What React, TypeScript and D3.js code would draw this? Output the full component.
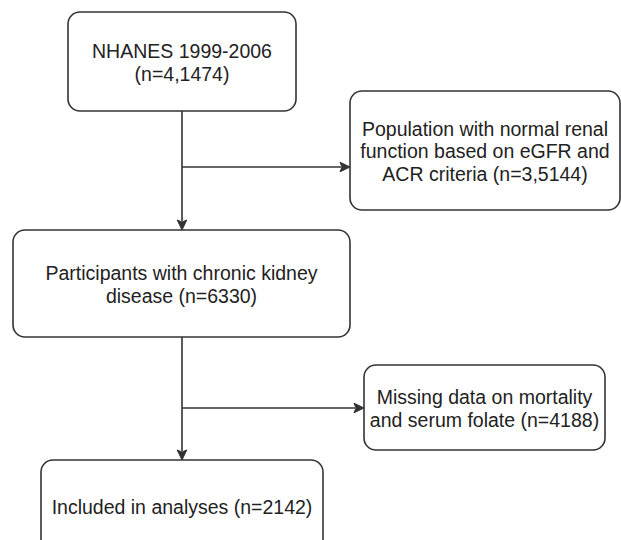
import * as d3 from "d3";

// flowchart content
const mainLabels: string[][] = [
  ["NHANES 1999-2006", "(n=4,1474)"],
  ["Participants with chronic kidney", "disease (n=6330)"],
  ["Included in analyses (n=2142)"],
];
const excludedLabels: string[][] = [
  ["Population with normal renal", "function based on eGFR and", "ACR criteria (n=3,5144)"],
  ["Missing data on mortality", "and serum folate (n=4188)"],
];

// box geometry (layout only)
const mainBoxes = [
  { x0: 68, x1: 296, y0: 12, y1: 111 },
  { x0: 13, x1: 350, y0: 230, y1: 337 },
  { x0: 41, x1: 323, y0: 460, y1: 552 },
];
const sideBoxes = [
  { x0: 350, x1: 620, y0: 91, y1: 210 },
  { x0: 364, x1: 605, y0: 365, y1: 450 },
];
const branchY = [167, 408];
const spineX = 182;

const W = 621;
const H = 540;
const fontSize = 19.5;
const lineGap = 22.5;
const stroke = "#333";

type Box = { x0: number; x1: number; y0: number; y1: number };

function arrowHead(x: number, y: number, dir: "down" | "right") {
  const len = 10;
  const half = 4.8;
  const notch = 2;
  const pts: [number, number][] =
    dir === "down"
      ? [[x, y], [x - half, y - len], [x, y - len + notch], [x + half, y - len]]
      : [[x, y], [x - len, y - half], [x - len + notch, y], [x - len, y + half]];
  return "M" + pts.map((p) => p.join(",")).join("L") + "Z";
}

function Node({ box, lines }: { box: Box; lines: string[] }) {
  const cx = (box.x0 + box.x1) / 2;
  const cy = (box.y0 + box.y1) / 2;
  const n = lines.length;
  return (
    <g>
      <rect
        x={box.x0}
        y={box.y0}
        width={box.x1 - box.x0}
        height={box.y1 - box.y0}
        rx={12}
        ry={12}
        fill="#fff"
        stroke={stroke}
        strokeWidth={1.6}
      />
      {lines.map((t, i) => (
        <text
          key={i}
          x={cx}
          y={cy + (i - (n - 1) / 2) * lineGap + fontSize * 0.4}
          textAnchor="middle"
          fontSize={fontSize}
          fill="#222"
        >
          {t}
        </text>
      ))}
    </g>
  );
}

export default function App() {
  const line = d3.line();
  const segs: [number, number][][] = [];
  const heads: string[] = [];
  for (let i = 0; i < mainBoxes.length - 1; i++) {
    const from = mainBoxes[i];
    const to = mainBoxes[i + 1];
    segs.push([[spineX, from.y1], [spineX, to.y0 - 9]]);
    heads.push(arrowHead(spineX, to.y0, "down"));
    const side = sideBoxes[i];
    segs.push([[spineX, branchY[i]], [side.x0 - 9, branchY[i]]]);
    heads.push(arrowHead(side.x0, branchY[i], "right"));
  }

  return (
    <svg
      width={W}
      height={H}
      style={{ position: "absolute", left: 0, top: 0, background: "#fff" }}
      fontFamily="'Liberation Sans', Arial, Helvetica, sans-serif"
    >
      <rect width={W} height={H} fill="#fff" />
      {segs.map((s, i) => (
        <path key={i} d={line(s) ?? ""} stroke={stroke} strokeWidth={1.6} fill="none" />
      ))}
      {heads.map((d, i) => (
        <path key={i} d={d} fill={stroke} stroke={stroke} strokeWidth={1} />
      ))}
      {mainBoxes.map((b, i) => (
        <Node key={"m" + i} box={b} lines={mainLabels[i]} />
      ))}
      {sideBoxes.map((b, i) => (
        <Node key={"s" + i} box={b} lines={excludedLabels[i]} />
      ))}
    </svg>
  );
}
